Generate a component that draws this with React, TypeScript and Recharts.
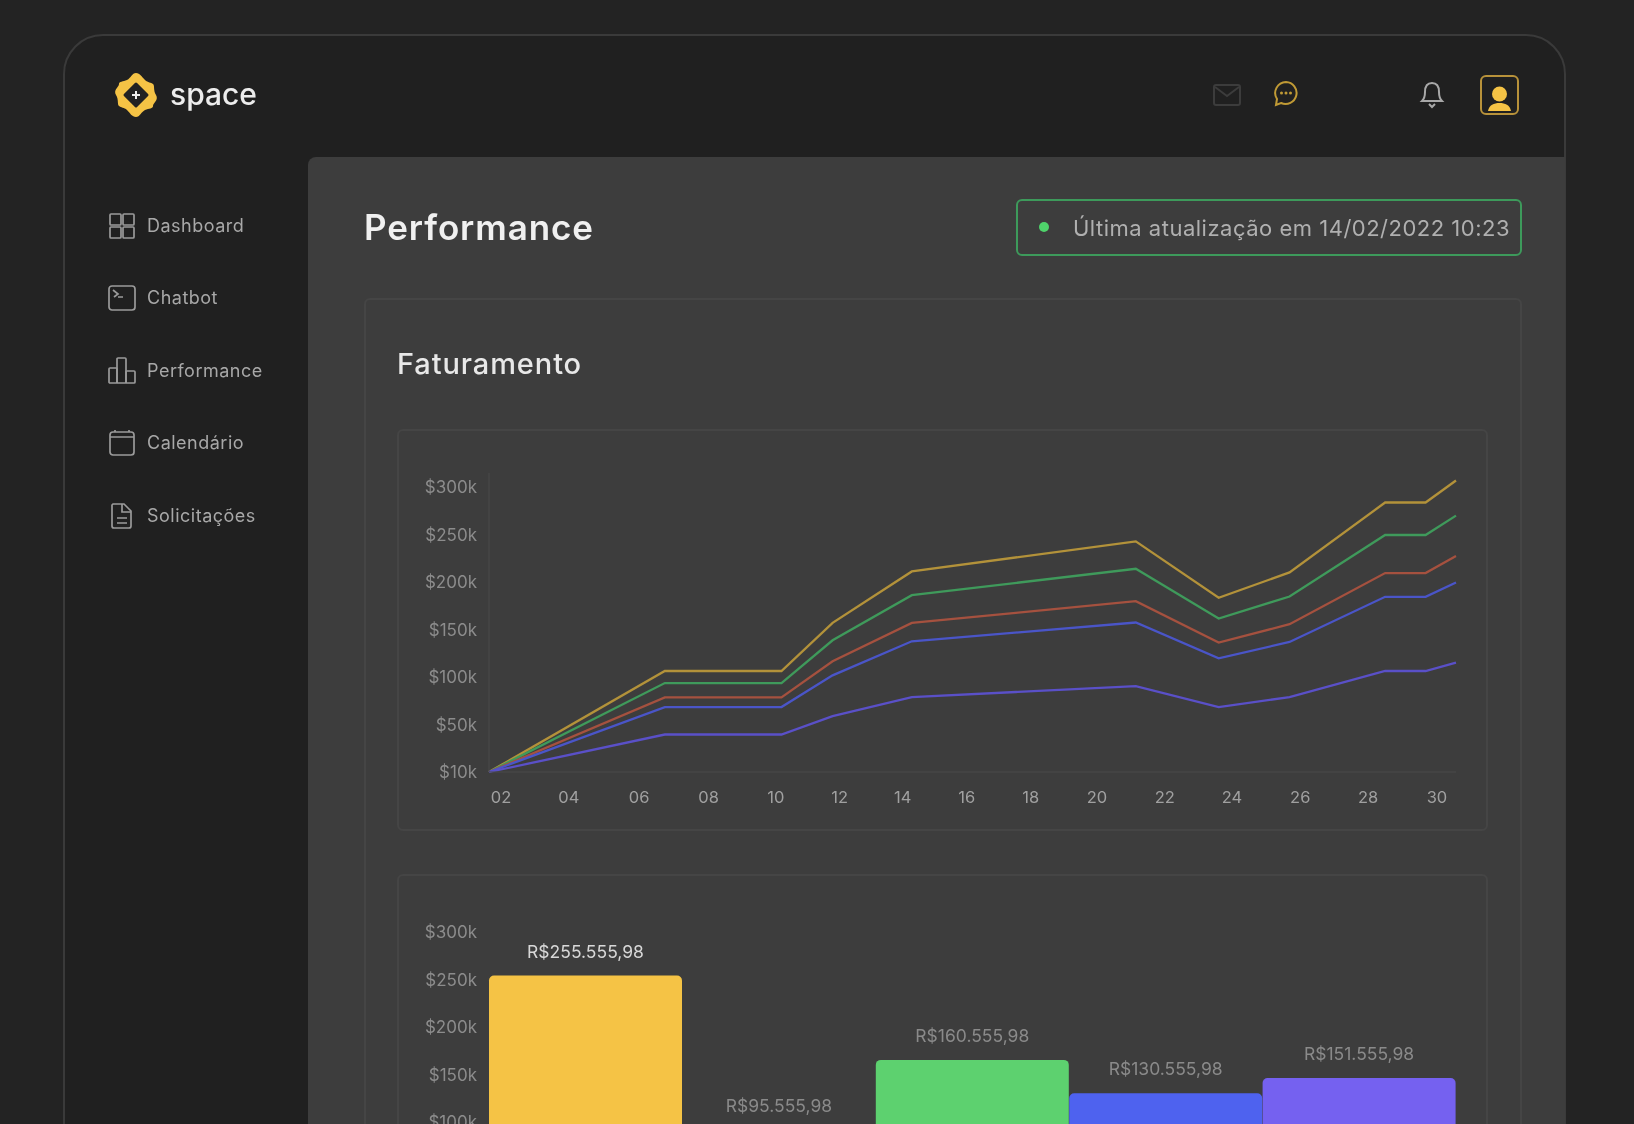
import { LineChart, Line, BarChart, Bar, Cell, LabelList, XAxis, YAxis } from "recharts";

const font = "Inter, 'Noto Sans', sans-serif";

// line chart values, in thousands
const days = [1.64, 6.9, 10.39, 11.92, 14.29, 20.99, 23.47, 25.59, 28.45, 29.66, 30.57];
const yellowLine = [0, 106.4, 106.4, 157.1, 211.3, 243, 183.5, 210.3, 283.9, 283.9, 307.1];
const greenLine = [0, 93.7, 93.7, 138.8, 186.3, 214.1, 161.7, 184.9, 249.7, 249.7, 270.1];
const redLine = [0, 78.6, 78.6, 116.6, 157.1, 180, 136.3, 155.7, 209.6, 209.6, 227.5];
const blueLine = [0, 68.4, 68.4, 101.8, 137.7, 157.5, 119.8, 137, 184.6, 184.6, 199.7];
const indigoLine = [0, 39.5, 39.5, 58.9, 78.9, 90.5, 68.4, 78.9, 106.4, 106.4, 115.2];

const xTicks = [2, 4.03, 6.13, 8.21, 10.22, 12.13, 14.02, 15.93, 17.85, 19.83, 21.86, 23.87, 25.91, 27.94, 30];
const xLabels = ["02", "04", "06", "08", "10", "12", "14", "16", "18", "20", "22", "24", "26", "28", "30"];
const yTicks = [0, 50, 100, 150, 200, 250, 300];
const yLabels = ["$10k", "$50k", "$100k", "$150k", "$200k", "$250k", "$300k"];

// bar chart values
const barValues = [254.3, 92, 165.5, 130.4, 146.5];
const barLabels = ["R$255.555,98", "R$95.555,98", "R$160.555,98", "R$130.555,98", "R$151.555,98"];
const barColors = ["#F5C345", "#E4573D", "#5DD16F", "#4E62EF", "#7561F0"];
const labelColors = ["#d8d8d8", "#8a8a8a", "#8a8a8a", "#8a8a8a", "#8a8a8a"];

const menu = ["Dashboard", "Chatbot", "Performance", "Calendário", "Solicitações"];

const lineData = days.map((day, i) => ({
  day,
  yellow: yellowLine[i],
  green: greenLine[i],
  red: redLine[i],
  blue: blueLine[i],
  indigo: indigoLine[i],
}));
const barData = barValues.map((value, i) => ({ name: barLabels[i], value }));

const yFormat = (v: number) => yLabels[yTicks.indexOf(v)] ?? "";
const xFormat = (v: number) => xLabels[xTicks.indexOf(v)] ?? "";
const tickStyle = { fontSize: 17, fill: "#8c8c8c", fontFamily: font };

function Box({ x, y, w, h, style, children }: any) {
  return <div style={{ position: "absolute", left: x, top: y, width: w, height: h, boxSizing: "border-box", ...style }}>{children}</div>;
}

function MenuIcon({ index }: { index: number }) {
  const p = { fill: "none", stroke: "#9a9a9a", strokeWidth: 1.7 };
  return (
    <svg width={30} height={30} viewBox="0 0 30 30" style={{ position: "absolute", left: 107, top: 211 + index * 72.4 }}>
      {index === 0 && (
        <g {...p}>
          <rect x="3" y="3" width="11" height="11" rx="1" /><rect x="16" y="3" width="11" height="11" rx="1" />
          <rect x="3" y="16" width="11" height="11" rx="1" /><rect x="16" y="16" width="11" height="11" rx="1" />
        </g>
      )}
      {index === 1 && (
        <g {...p}>
          <rect x="2" y="3" width="26" height="24" rx="3" /><path d="M6 7l5 4-4 3M11 14h5" />
        </g>
      )}
      {index === 2 && (
        <g {...p}>
          <rect x="2" y="12" width="8" height="15" rx="1" /><rect x="10" y="2" width="9" height="25" rx="1" /><rect x="19" y="15" width="9" height="12" rx="1" />
        </g>
      )}
      {index === 3 && (
        <g {...p}>
          <rect x="3" y="4" width="24" height="23" rx="3" /><path d="M3 9h24M8 2v2M22 2v2" />
        </g>
      )}
      {index === 4 && (
        <g {...p}>
          <path d="M6 3h11l7 7v15a2 2 0 0 1-2 2H7a2 2 0 0 1-2-2V4z" /><path d="M15 3v8h9M10 17h10M10 22h10" />
        </g>
      )}
    </svg>
  );
}

function BarLabel({ x, y, width, value, index }: any) {
  return (
    <text x={x + width / 2} y={y - 18} textAnchor="middle" fontSize={17.5} fontFamily={font} fill={labelColors[index]}>
      {value}
    </text>
  );
}

export default function App() {
  return (
    <div style={{ position: "absolute", left: 0, top: 0, width: 1634, height: 1124, overflow: "hidden", background: "#232323", fontFamily: font, filter: "blur(0.7px)" }}>
      {/* window */}
      <Box x={63} y={34} w={1503} h={1140} style={{ background: "#202020", border: "2px solid #3a3a3a", borderRadius: 40 }} />

      {/* logo */}
      <svg width={48} height={48} viewBox="0 0 48 48" style={{ position: "absolute", left: 112, top: 71 }}>
        <path d="M24 2c4 0 6 4 9 7s6 2 8 4 0 6 3 11-3 8-3 11-4 2-8 4-5 7-9 7-6-4-9-7-6-2-8-4 0-6-3-11 3-8 3-11 4-2 8-4 5-7 9-7z" fill="#F5C345" />
        <path d="M24 13l11 11-11 11-11-11z" fill="#222" stroke="#222" strokeWidth="3" strokeLinejoin="round" />
        <path d="M24 20v8M20 24h8" stroke="#eee" strokeWidth="2" />
      </svg>
      <Box x={170} y={74} w={120} h={40} style={{ color: "#ececec", fontSize: 30, fontWeight: 500, lineHeight: "40px" }}>space</Box>

      {/* top icons */}
      <svg width={28} height={22} viewBox="0 0 28 22" style={{ position: "absolute", left: 1213, top: 84 }}>
        <rect x="1" y="1" width="26" height="20" rx="2" fill="none" stroke="#3c3c3c" strokeWidth="2" />
        <path d="M2 3l12 9 12-9" fill="none" stroke="#3c3c3c" strokeWidth="2" />
      </svg>
      <svg width={26} height={28} viewBox="0 0 26 28" style={{ position: "absolute", left: 1273, top: 80 }}>
        <path d="M13 2a11 11 0 1 1-5 21l-5 2 1-6A11 11 0 0 1 13 2z" fill="none" stroke="#c09a35" strokeWidth="2" />
        <circle cx="8.5" cy="13" r="1.5" fill="#c09a35" /><circle cx="13" cy="13" r="1.5" fill="#c09a35" /><circle cx="17.5" cy="13" r="1.5" fill="#c09a35" />
      </svg>
      <svg width={26} height={30} viewBox="0 0 26 30" style={{ position: "absolute", left: 1419, top: 80 }}>
        <path d="M13 3c-5 0-7 4-7 9 0 4-1 7-3 9h20c-2-2-3-5-3-9 0-5-2-9-7-9z" fill="none" stroke="#a8a8a8" strokeWidth="2" />
        <path d="M10 24l3 3 3-3" fill="none" stroke="#a8a8a8" strokeWidth="2" />
      </svg>
      <Box x={1480} y={75} w={39} h={40} style={{ border: "2px solid #b8923a", borderRadius: 6 }} />
      <svg width={35} height={36} viewBox="0 0 35 36" style={{ position: "absolute", left: 1482, top: 77 }}>
        <circle cx="17.5" cy="17" r="7.5" fill="#F5C345" />
        <path d="M6 34c1-6 6-8 11.500-8s10.500 2 11.500 8z" fill="#F5C345" />
      </svg>

      {/* sidebar */}
      {menu.map((item, i) => (
        <div key={item}>
          <MenuIcon index={i} />
          <Box x={147} y={211 + i * 72.4} w={155} h={30} style={{ color: "#a8a8a8", fontSize: 18, letterSpacing: 0.5, lineHeight: "30px" }}>{item}</Box>
        </div>
      ))}

      {/* main panel */}
      <Box x={308} y={157} w={1257} h={1000} style={{ background: "#3d3d3d", borderTopLeftRadius: 8 }} />
      <Box x={364} y={205} w={300} h={44} style={{ color: "#f0f0f0", fontSize: 35, fontWeight: 600, letterSpacing: 0.9, lineHeight: "44px" }}>Performance</Box>

      <Box x={1016} y={199} w={506} h={57} style={{ border: "2px solid #3d9a5b", borderRadius: 6 }} />
      <svg width={12} height={12} style={{ position: "absolute", left: 1038, top: 221 }}>
        <circle cx="6" cy="6" r="5" fill="#4fd36b" />
      </svg>
      <Box x={1073} y={213} w={445} h={30} style={{ color: "#b0b0b0", fontSize: 22, letterSpacing: 0.5, lineHeight: "30px", whiteSpace: "nowrap" }}>Última atualização em 14/02/2022 10:23</Box>

      <Box x={364} y={298} w={1158} h={900} style={{ border: "2px solid #454545", borderRadius: 6 }} />
      <Box x={397} y={345} w={300} h={38} style={{ color: "#e8e8e8", fontSize: 29, fontWeight: 500, letterSpacing: 0.9, lineHeight: "38px" }}>Faturamento</Box>

      {/* line chart */}
      <Box x={397} y={429} w={1091} h={402} style={{ border: "2px solid #454545", borderRadius: 6 }} />
      <div style={{ position: "absolute", left: 397, top: 430 }}>
        <LineChart width={1090} height={398} data={lineData} margin={{ top: 43, right: 31, left: 0, bottom: 0 }}>
          <XAxis
            dataKey="day"
            type="number"
            domain={[1.64, 30.57]}
            ticks={xTicks}
            interval={0}
            tickFormatter={xFormat}
            tickLine={false}
            axisLine={{ stroke: "#4a4a4a" }}
            tick={{ ...tickStyle, fontSize: 16.5, fill: "#a0a0a0" }}
            tickMargin={13}
            height={56}
          />
          <YAxis
            type="number"
            domain={[0, 315]}
            ticks={yTicks}
            interval={0}
            tickFormatter={yFormat}
            tickLine={false}
            axisLine={{ stroke: "#4a4a4a" }}
            tick={tickStyle}
            tickMargin={6}
            width={92}
          />
          <Line type="linear" dataKey="yellow" stroke="#B3923A" strokeWidth={2.3} dot={false} isAnimationActive={false} />
          <Line type="linear" dataKey="green" stroke="#3F9A5B" strokeWidth={2.3} dot={false} isAnimationActive={false} />
          <Line type="linear" dataKey="red" stroke="#A5513F" strokeWidth={2.3} dot={false} isAnimationActive={false} />
          <Line type="linear" dataKey="blue" stroke="#4A55C8" strokeWidth={2.3} dot={false} isAnimationActive={false} />
          <Line type="linear" dataKey="indigo" stroke="#5A50C8" strokeWidth={2.3} dot={false} isAnimationActive={false} />
        </LineChart>
      </div>

      {/* bar chart */}
      <Box x={397} y={874} w={1091} h={400} style={{ border: "2px solid #454545", borderRadius: 6 }} />
      <div style={{ position: "absolute", left: 397, top: 874 }}>
        <BarChart width={1090} height={343} data={barData} margin={{ top: 44, right: 31, left: 0, bottom: 0 }} barCategoryGap={0}>
          <XAxis dataKey="name" hide />
          <YAxis
            type="number"
            domain={[0, 315]}
            ticks={yTicks}
            interval={0}
            tickFormatter={yFormat}
            tickLine={false}
            axisLine={false}
            tick={tickStyle}
            tickMargin={6}
            width={92}
          />
          <Bar dataKey="value" radius={[5, 5, 0, 0]} isAnimationActive={false}>
            {barData.map((d, i) => (
              <Cell key={d.name} fill={barColors[i]} />
            ))}
            <LabelList dataKey="name" content={<BarLabel />} />
          </Bar>
        </BarChart>
      </div>
    </div>
  );
}
